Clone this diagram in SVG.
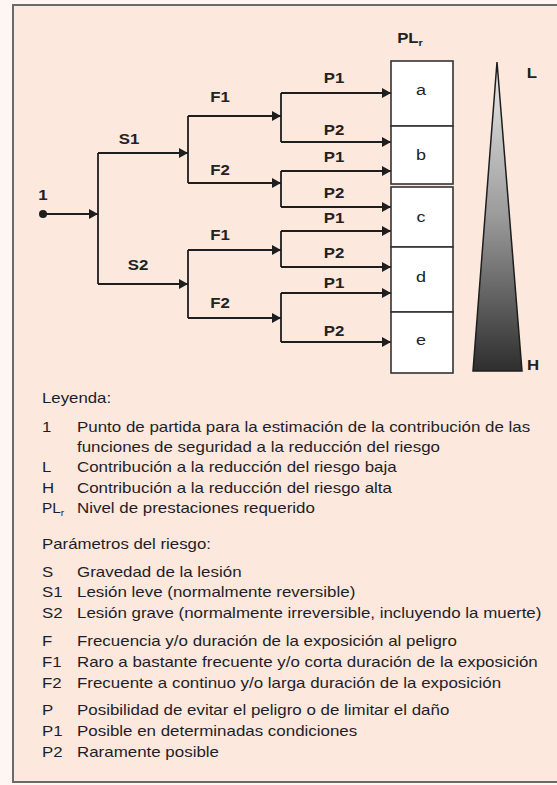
<svg xmlns="http://www.w3.org/2000/svg" width="557" height="785" viewBox="0 0 557 785">
<defs>
<marker id="ah" markerWidth="9" markerHeight="10" refX="9" refY="5" orient="auto" markerUnits="userSpaceOnUse"><path d="M0,0 L9,5 L0,10 z" fill="#1e1e1e"/></marker>
<linearGradient id="tri" x1="0" y1="0" x2="0" y2="1"><stop offset="0" stop-color="#ececec"/><stop offset="0.5" stop-color="#9a9a9a"/><stop offset="1" stop-color="#2e2e2e"/></linearGradient>
<style>
.lbl{font-family:"Liberation Sans",Arial,sans-serif;font-size:14px;font-weight:bold;fill:#222;text-anchor:middle}
.box{font-family:"Liberation Sans",Arial,sans-serif;font-size:15px;fill:#222;text-anchor:middle}
.leg{font-family:"Liberation Sans",Arial,sans-serif;font-size:14px;fill:#1e1e2a}
.ln{fill:none;stroke:#1e1e1e;stroke-width:1.8}
.arr{fill:none;stroke:#1e1e1e;stroke-width:1.8;marker-end:url(#ah)}
.pl{fill:#fff;stroke:#333;stroke-width:1.6}
</style>
</defs>
<rect x="0" y="0" width="557" height="785" fill="#fdf6f2"/>
<rect x="13" y="5" width="546" height="777" fill="#fce8dc" stroke="#6a6a6a" stroke-width="2"/>

<g id="connectors">
<path class="arr" d="M43,214 H98"/>
<path class="ln" d="M98,153 V284"/>
<path class="arr" d="M98,153 H188"/>
<path class="arr" d="M98,284 H188"/>
<path class="ln" d="M188,116 V183"/>
<path class="ln" d="M188,250 V318"/>
<path class="arr" d="M188,116 H281"/>
<path class="arr" d="M188,183 H281"/>
<path class="arr" d="M188,250 H281"/>
<path class="arr" d="M188,318 H281"/>
<path class="ln" d="M281,93 V142"/>
<path class="ln" d="M281,171 V207"/>
<path class="ln" d="M281,231 V267"/>
<path class="ln" d="M281,293 V342"/>
<path class="arr" d="M281,93 H391"/>
<path class="arr" d="M281,142 H391"/>
<path class="arr" d="M281,171 H391"/>
<path class="arr" d="M281,207 H391"/>
<path class="arr" d="M281,231 H391"/>
<path class="arr" d="M281,267 H391"/>
<path class="arr" d="M281,293 H391"/>
<path class="arr" d="M281,342 H391"/>
</g>

<g id="start">
<circle cx="43" cy="214" r="4" fill="#1e1e1e"/>
<text class="lbl" transform="translate(43 200) scale(1.2 1)">1</text>
</g>
<g id="branch-labels">
<text class="lbl" transform="translate(129 144) scale(1.2 1)">S1</text>
<text class="lbl" transform="translate(138 270) scale(1.2 1)">S2</text>
<text class="lbl" transform="translate(220 102) scale(1.2 1)">F1</text>
<text class="lbl" transform="translate(220 175) scale(1.2 1)">F2</text>
<text class="lbl" transform="translate(220 240) scale(1.2 1)">F1</text>
<text class="lbl" transform="translate(220 308) scale(1.2 1)">F2</text>
<text class="lbl" transform="translate(334 83) scale(1.2 1)">P1</text>
<text class="lbl" transform="translate(334 135) scale(1.2 1)">P2</text>
<text class="lbl" transform="translate(334 162) scale(1.2 1)">P1</text>
<text class="lbl" transform="translate(334 198) scale(1.2 1)">P2</text>
<text class="lbl" transform="translate(334 223) scale(1.2 1)">P1</text>
<text class="lbl" transform="translate(334 258) scale(1.2 1)">P2</text>
<text class="lbl" transform="translate(334 288) scale(1.2 1)">P1</text>
<text class="lbl" transform="translate(334 336) scale(1.2 1)">P2</text>
</g>

<g id="plr-title">
<text class="lbl" transform="translate(410 43) scale(1.2 1)">PL<tspan font-size="9" dy="3">r</tspan></text>
</g>
<g id="pl-a"><rect class="pl" x="391" y="61" width="62" height="65"/><text class="box" transform="translate(421 95) scale(1.2 1)">a</text></g>
<g id="pl-b"><rect class="pl" x="391" y="126" width="62" height="58"/><text class="box" transform="translate(421 160) scale(1.2 1)">b</text></g>
<g id="pl-c"><rect class="pl" x="391" y="187" width="62" height="60"/><text class="box" transform="translate(421 222) scale(1.2 1)">c</text></g>
<g id="pl-d"><rect class="pl" x="391" y="247" width="62" height="65"/><text class="box" transform="translate(421 282) scale(1.2 1)">d</text></g>
<g id="pl-e"><rect class="pl" x="391" y="312" width="62" height="61"/><text class="box" transform="translate(421 345) scale(1.2 1)">e</text></g>

<g id="scale">
<polygon points="497,62 522,371 473,371" fill="url(#tri)" stroke="#1e1e1e" stroke-width="1.5"/>
<text class="lbl" transform="translate(532 78) scale(1.2 1)">L</text>
<text class="lbl" transform="translate(533 370) scale(1.2 1)">H</text>
</g>

<g id="legend">
<text class="leg" transform="translate(42 403) scale(1.2 1)">Leyenda:</text>
<text class="leg" transform="translate(42 432) scale(1.2 1)">1</text>
<text class="leg" transform="translate(77 432) scale(1.21 1)">Punto de partida para la estimación de la contribución de las</text>
<text class="leg" transform="translate(77 452) scale(1.21 1)">funciones de seguridad a la reducción del riesgo</text>
<text class="leg" transform="translate(42 472) scale(1.2 1)">L</text>
<text class="leg" transform="translate(77 472) scale(1.21 1)">Contribución a la reducción del riesgo baja</text>
<text class="leg" transform="translate(42 493) scale(1.2 1)">H</text>
<text class="leg" transform="translate(77 493) scale(1.21 1)">Contribución a la reducción del riesgo alta</text>
<text class="leg" transform="translate(42 513) scale(1.1 1)">PL<tspan font-size="9" dy="3">r</tspan></text>
<text class="leg" transform="translate(77 513) scale(1.21 1)">Nivel de prestaciones requerido</text>
<text class="leg" transform="translate(42 549) scale(1.2 1)">Parámetros del riesgo:</text>
<text class="leg" transform="translate(42 577) scale(1.2 1)">S</text>
<text class="leg" transform="translate(77 577) scale(1.21 1)">Gravedad de la lesión</text>
<text class="leg" transform="translate(42 597) scale(1.2 1)">S1</text>
<text class="leg" transform="translate(77 597) scale(1.21 1)">Lesión leve (normalmente reversible)</text>
<text class="leg" transform="translate(42 618) scale(1.2 1)">S2</text>
<text class="leg" transform="translate(77 618) scale(1.21 1)">Lesión grave (normalmente irreversible, incluyendo la muerte)</text>
<text class="leg" transform="translate(42 646) scale(1.2 1)">F</text>
<text class="leg" transform="translate(77 646) scale(1.21 1)">Frecuencia y/o duración de la exposición al peligro</text>
<text class="leg" transform="translate(42 667) scale(1.2 1)">F1</text>
<text class="leg" transform="translate(77 667) scale(1.21 1)">Raro a bastante frecuente y/o corta duración de la exposición</text>
<text class="leg" transform="translate(42 688) scale(1.2 1)">F2</text>
<text class="leg" transform="translate(77 688) scale(1.21 1)">Frecuente a continuo y/o larga duración de la exposición</text>
<text class="leg" transform="translate(42 715) scale(1.2 1)">P</text>
<text class="leg" transform="translate(77 715) scale(1.21 1)">Posibilidad de evitar el peligro o de limitar el daño</text>
<text class="leg" transform="translate(42 736) scale(1.2 1)">P1</text>
<text class="leg" transform="translate(77 736) scale(1.21 1)">Posible en determinadas condiciones</text>
<text class="leg" transform="translate(42 757) scale(1.2 1)">P2</text>
<text class="leg" transform="translate(77 757) scale(1.21 1)">Raramente posible</text>
</g>
</svg>
